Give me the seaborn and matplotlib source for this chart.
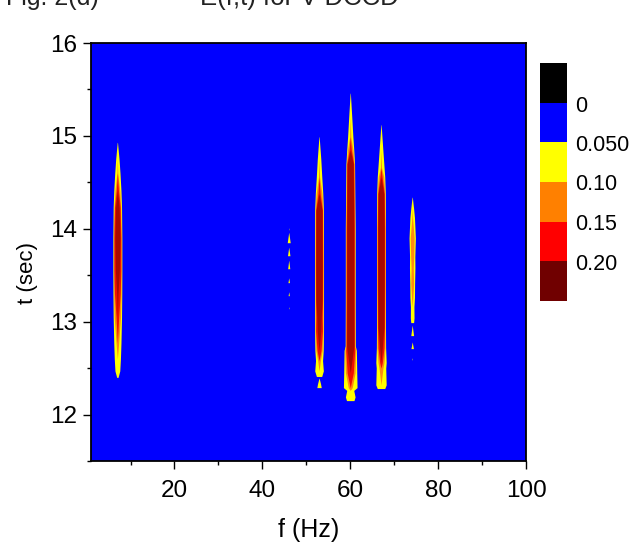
import numpy as np
import pandas as pd
import seaborn as sns
import matplotlib.pyplot as plt
from matplotlib.colors import ListedColormap

# band colours, weakest first
band_colors = ['#ffff00', '#ff8a10', '#f01000', '#a80800']
legend_colors = ['#000000', '#0000ff', '#ffff00', '#ff8000', '#ff0000', '#700000']
legend_labels = ['0', '0.050', '0.10', '0.15', '0.20']

# each spike: centre f (Hz), t knots (sec), half widths (Hz) of yellow/orange/red/dark
f_7 = 7.0
t_7 = [12.40, 12.47, 12.60, 12.77, 13.05, 13.30, 13.55, 13.90, 14.23, 14.41, 14.60, 14.75, 14.93]
y_7 = [0.15, 0.55, 0.70, 0.82, 0.95, 1.00, 1.02, 1.02, 0.95, 0.82, 0.60, 0.38, 0.03]
o_7 = [0, 0, 0, 0.30, 0.72, 0.85, 0.90, 0.90, 0.78, 0.55, 0.10, 0, 0]
r_7 = [0, 0, 0, 0, 0.30, 0.65, 0.78, 0.78, 0.65, 0.25, 0, 0, 0]
d_7 = [0, 0, 0, 0, 0, 0.15, 0.45, 0.58, 0.40, 0, 0, 0, 0]

f_53 = 52.9
t_53 = [12.41, 12.47, 12.58, 12.69, 12.90, 13.05, 13.23, 13.60, 14.20, 14.38, 14.56, 14.75, 14.99]
y_53 = [0.60, 0.98, 0.80, 0.95, 1.02, 1.02, 1.02, 1.02, 1.00, 0.85, 0.62, 0.40, 0.03]
o_53 = [0, 0, 0.30, 0.72, 0.92, 0.92, 0.92, 0.94, 0.90, 0.65, 0.12, 0, 0]
r_53 = [0, 0, 0, 0.45, 0.78, 0.72, 0.80, 0.82, 0.78, 0.25, 0, 0, 0]
d_53 = [0, 0, 0, 0, 0.40, 0.50, 0.68, 0.72, 0.68, 0, 0, 0, 0]

f_53b = 52.9
t_53b = [12.29, 12.33, 12.39]
y_53b = [0.50, 0.35, 0.03]

f_60 = 60.0
t_60 = [12.15, 12.19, 12.26, 12.29, 12.45, 12.69, 12.74, 13.20, 14.00, 14.70, 14.85, 14.99, 15.20, 15.46]
y_60 = [0.85, 1.10, 0.80, 1.55, 1.48, 1.40, 1.15, 1.12, 1.12, 0.98, 0.80, 0.60, 0.35, 0.03]
o_60 = [0, 0, 0, 0.45, 1.10, 1.25, 1.05, 1.02, 1.02, 0.88, 0.62, 0.12, 0, 0]
r_60 = [0, 0, 0, 0, 0.70, 1.02, 0.95, 0.92, 0.92, 0.80, 0.25, 0, 0, 0]
d_60 = [0, 0, 0, 0, 0, 0.70, 0.82, 0.80, 0.80, 0.68, 0, 0, 0, 0]

f_67 = 67.0
t_67 = [12.28, 12.32, 12.50, 12.56, 12.72, 12.94, 13.40, 14.00, 14.38, 14.56, 14.66, 14.85, 15.12]
y_67 = [0.85, 1.18, 1.08, 1.18, 1.05, 1.02, 1.02, 1.02, 0.98, 0.85, 0.70, 0.42, 0.03]
o_67 = [0, 0, 0.45, 0.68, 0.92, 0.92, 0.95, 0.95, 0.88, 0.62, 0.12, 0, 0]
r_67 = [0, 0, 0, 0.30, 0.68, 0.80, 0.84, 0.84, 0.75, 0.25, 0, 0, 0]
d_67 = [0, 0, 0, 0, 0.30, 0.65, 0.72, 0.72, 0.62, 0, 0, 0, 0]

f_74 = 74.1
t_74 = [12.99, 13.04, 13.16, 13.26, 13.41, 13.58, 13.70, 13.90, 14.12, 14.22, 14.34]
y_74 = [0.32, 0.42, 0.40, 0.52, 0.55, 0.62, 0.60, 0.72, 0.52, 0.32, 0.03]
o_74 = [0, 0, 0, 0.15, 0.32, 0.25, 0.35, 0.45, 0.08, 0, 0]

# broken pieces at the bottom of the 74 Hz line and the weak 46 Hz line
f_small = [74.1, 74.1, 74.1, 46.0, 46.0, 46.0, 46.0, 46.0, 46.0, 46.0]
t_small_lo = [12.85, 12.71, 12.59, 13.85, 13.71, 13.57, 13.42, 13.28, 13.14, 13.99]
t_small_hi = [12.96, 12.78, 12.61, 13.96, 13.80, 13.66, 13.47, 13.32, 13.16, 14.01]
w_small = [0.32, 0.28, 0.06, 0.34, 0.28, 0.24, 0.18, 0.14, 0.06, 0.05]

x_ticks = [20, 40, 60, 80, 100]
x_minor = [10, 30, 50, 70, 90]
y_ticks = [12, 13, 14, 15, 16]
y_minor = [11.5, 12.5, 13.5, 14.5, 15.5]


def draw_spike(ax, f0, t, *widths):
    for w, c in zip(widths, band_colors):
        w = np.array(w)
        ax.fill_betweenx(t, f0 - w, f0 + w, color=c, lw=0)


sns.set_theme(style='ticks')
plt.rcParams['font.family'] = ['Liberation Sans', 'DejaVu Sans']
plt.rcParams['text.color'] = 'black'
plt.rcParams['axes.labelcolor'] = 'black'
plt.rcParams['xtick.labelcolor'] = 'black'
plt.rcParams['ytick.labelcolor'] = 'black'

fig = plt.figure(figsize=(6.35, 5.48), dpi=100)
ax = fig.add_axes([91 / 635, 1 - 461 / 548, 435 / 635, 418 / 548])
ax.set_facecolor('#0000ff')

draw_spike(ax, f_7, t_7, y_7, o_7, r_7, d_7)
draw_spike(ax, f_53, t_53, y_53, o_53, r_53, d_53)
draw_spike(ax, f_53b, t_53b, y_53b)
draw_spike(ax, f_60, t_60, y_60, o_60, r_60, d_60)
draw_spike(ax, f_67, t_67, y_67, o_67, r_67, d_67)
draw_spike(ax, f_74, t_74, y_74, o_74)
for f0, lo, hi, w in zip(f_small, t_small_lo, t_small_hi, w_small):
    draw_spike(ax, f0, [lo, hi], [w, 0.01])

ax.set_xlim(1, 100)
ax.set_ylim(11.5, 16)
ax.set_xticks(x_ticks)
ax.set_yticks(y_ticks)
ax.set_xticks(x_minor, minor=True)
ax.set_yticks(y_minor, minor=True)
ax.tick_params(axis='both', which='major', length=5.8, width=1, labelsize=17.5, color='black')
ax.tick_params(axis='x', which='major', pad=8)
ax.tick_params(axis='y', which='major', pad=4)
ax.tick_params(axis='both', which='minor', length=3, width=1, color='black')
ax.set_xlabel('f (Hz)', fontsize=18)
ax.set_ylabel('t (sec)', fontsize=16)
ax.xaxis.set_label_coords(0.5, -(530 - 461) / 418, transform=ax.transAxes)
ax.xaxis.label.set_va('center')
ax.yaxis.set_label_coords(-(91 - 27) / 435, (461 - 273) / 418, transform=ax.transAxes)
ax.yaxis.label.set_va('center')
for s in ax.spines.values():
    s.set_linewidth(1.3)
    s.set_color('black')

# colour scale as a one column heatmap
cax = fig.add_axes([540 / 635, 1 - 301 / 548, 27 / 635, 238 / 548])
scale = pd.DataFrame({'level': range(len(legend_colors))})
sns.heatmap(scale, ax=cax, cmap=ListedColormap(legend_colors), cbar=False,
            xticklabels=False, yticklabels=False)
for i, lab in enumerate(legend_labels):
    fig.text(575 / 635, 1 - (106 + i * 39.5) / 548, lab, fontsize=15.5, va='center', ha='left')

# header is cut by the top edge of the picture
fig.text(6 / 635, 1 + 2 / 548, 'Fig. 2(d)', fontsize=18, va='center', color='#222222')
fig.text(200 / 635, 1 + 2 / 548, 'E(f,t) for V-DCCD', fontsize=18.5, va='center', color='#222222')

fig.savefig('out.png', dpi=100)
